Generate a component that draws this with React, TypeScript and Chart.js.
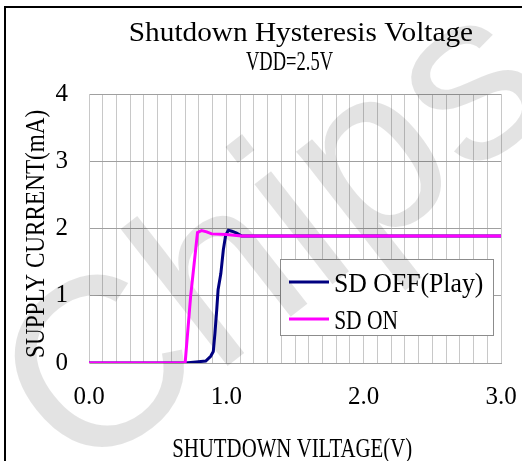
import React, { useEffect, useRef } from "react";
import { Chart, registerables } from "chart.js";

Chart.register(...registerables);

// ---- data ----
const sdOffVoltage = [0, 0.7, 0.78, 0.85, 0.886, 0.905, 0.917, 0.93, 0.94, 0.96, 0.978, 0.995, 1.015, 1.04, 1.075, 1.11, 3.0];
const sdOffCurrent = [0, 0, 0.015, 0.03, 0.1, 0.17, 0.44, 0.79, 1.09, 1.33, 1.68, 1.9, 1.975, 1.96, 1.93, 1.89, 1.89];
const sdOnVoltage = [0, 0.7, 0.74, 0.79, 0.82, 0.857, 0.893, 1.0, 1.11, 3.0];
const sdOnCurrent = [0, 0, 0.99, 1.94, 1.97, 1.95, 1.92, 1.91, 1.89, 1.89];
const xTickLabels = ["0.0", "1.0", "2.0", "3.0"];
const yTickLabels = ["0", "1", "2", "3", "4"];
const seriesNames = ["SD OFF(Play)", "SD ON"];
const seriesColors = ["#000080", "#ff00ff"];
const titleText = "Shutdown Hysteresis Voltage";
const subtitleText = "VDD=2.5V";
const xAxisTitle = "SHUTDOWN VILTAGE(V)";
const yAxisTitle = "SUPPLY CURRENT(mA)";
const watermarkText = "Chips";

const SERIF = '"Liberation Serif", "Times New Roman", serif';

function fitText(
  ctx: CanvasRenderingContext2D,
  text: string,
  left: number,
  baseline: number,
  width: number,
  size: number,
  rotate = false,
  sy = 1.08
) {
  ctx.save();
  ctx.font = `${size}px ${SERIF}`;
  ctx.fillStyle = "#000";
  ctx.textAlign = "left";
  ctx.textBaseline = "alphabetic";
  const m = ctx.measureText(text);
  const abl = m.actualBoundingBoxLeft;
  const ink = m.actualBoundingBoxLeft + m.actualBoundingBoxRight;
  const sx = width / ink;
  ctx.translate(left, baseline);
  if (rotate) ctx.rotate(-Math.PI / 2);
  ctx.scale(sx, sy);
  ctx.fillText(text, abl, 0);
  ctx.restore();
}

const decorPlugin = {
  id: "decor",
  beforeDatasetsDraw(chart: any) {
    const ctx: CanvasRenderingContext2D = chart.ctx;
    // legend box
    ctx.save();
    ctx.fillStyle = "#ffffff";
    ctx.fillRect(280.5, 259.5, 213, 76);
    ctx.strokeStyle = "#8c8c8c";
    ctx.lineWidth = 1;
    ctx.strokeRect(280.5, 259.5, 213, 76);
    const rows = [282, 319];
    rows.forEach((y, i) => {
      ctx.strokeStyle = seriesColors[i];
      ctx.lineWidth = 3;
      ctx.beginPath();
      ctx.moveTo(289, y);
      ctx.lineTo(329, y);
      ctx.stroke();
    });
    ctx.restore();
    fitText(ctx, seriesNames[0], 335, 292, 148, 25);
    fitText(ctx, seriesNames[1], 335, 329, 63, 25);

    // watermark
    ctx.save();
    ctx.translate(78, 483);
    ctx.rotate((-38 * Math.PI) / 180);
    ctx.font = '240px "Liberation Sans", sans-serif';
    ctx.fillStyle = "rgba(0,0,0,0.11)";
    ctx.textAlign = "left";
    ctx.textBaseline = "alphabetic";
    ctx.fillText(watermarkText, 0, 0);
    ctx.restore();
  },
  afterDraw(chart: any) {
    const ctx: CanvasRenderingContext2D = chart.ctx;
    fitText(ctx, titleText, 130, 41, 343, 25);
    fitText(ctx, subtitleText, 246, 70, 87, 25);
    fitText(ctx, xAxisTitle, 173, 457, 239, 25);
    fitText(ctx, yAxisTitle, 44, 357, 247, 25, true);
    // outer frame (top and left)
    ctx.save();
    ctx.fillStyle = "#000";
    ctx.fillRect(4, 6, 518, 2);
    ctx.fillRect(4, 6, 2, 455);
    ctx.restore();
  },
};

export default function App() {
  const canvasRef = useRef<HTMLCanvasElement | null>(null);

  useEffect(() => {
    if (!canvasRef.current) return;
    const chart = new Chart(canvasRef.current, {
      type: "line",
      data: {
        datasets: [
          {
            label: seriesNames[0],
            data: sdOffVoltage.map((x, i) => ({ x, y: sdOffCurrent[i] })),
            borderColor: seriesColors[0],
            backgroundColor: seriesColors[0],
            borderWidth: 3,
            pointRadius: 0,
            tension: 0,
            order: 2,
          },
          {
            label: seriesNames[1],
            data: sdOnVoltage.map((x, i) => ({ x, y: sdOnCurrent[i] })),
            borderColor: seriesColors[1],
            backgroundColor: seriesColors[1],
            borderWidth: 3,
            pointRadius: 0,
            tension: 0,
            order: 1,
          },
        ],
      },
      options: {
        responsive: false,
        animation: false,
        layout: { padding: { top: 94, right: 21, left: 0, bottom: 0 } },
        plugins: {
          legend: { display: false },
          title: { display: false },
          tooltip: { enabled: false },
        },
        scales: {
          x: {
            type: "linear",
            min: 0,
            max: 3,
            afterFit: (s: any) => {
              s.height = 98;
            },
            ticks: {
              stepSize: 0.1,
              autoSkip: false,
              maxRotation: 0,
              padding: 0,
              color: "#000",
              font: { family: SERIF, size: 25, lineHeight: "68px" },
              callback: (v: any) => {
                const n = Number(v);
                const r = Math.round(n);
                return Math.abs(n - r) < 1e-6 ? xTickLabels[r] : "";
              },
            },
            grid: { color: "#c8c8c8", drawTicks: false, lineWidth: 1 },
            border: { color: "#a0a0a0" },
          },
          y: {
            type: "linear",
            min: 0,
            max: 4,
            afterFit: (s: any) => {
              s.width = 89;
            },
            ticks: {
              stepSize: 1,
              padding: 21,
              color: "#000",
              font: { family: SERIF, size: 25 },
              callback: (v: any) => yTickLabels[Math.round(Number(v))] ?? "",
            },
            grid: { color: "#a0a0a0", drawTicks: false, lineWidth: 1 },
            border: { color: "#c8c8c8" },
          },
        },
      },
      plugins: [decorPlugin],
    } as any);
    return () => chart.destroy();
  }, []);

  return (
    <div style={{ position: "absolute", left: 0, top: 0, width: 522, height: 461, background: "#fff" }}>
      <canvas ref={canvasRef} width={522} height={461} style={{ display: "block" }} />
    </div>
  );
}
